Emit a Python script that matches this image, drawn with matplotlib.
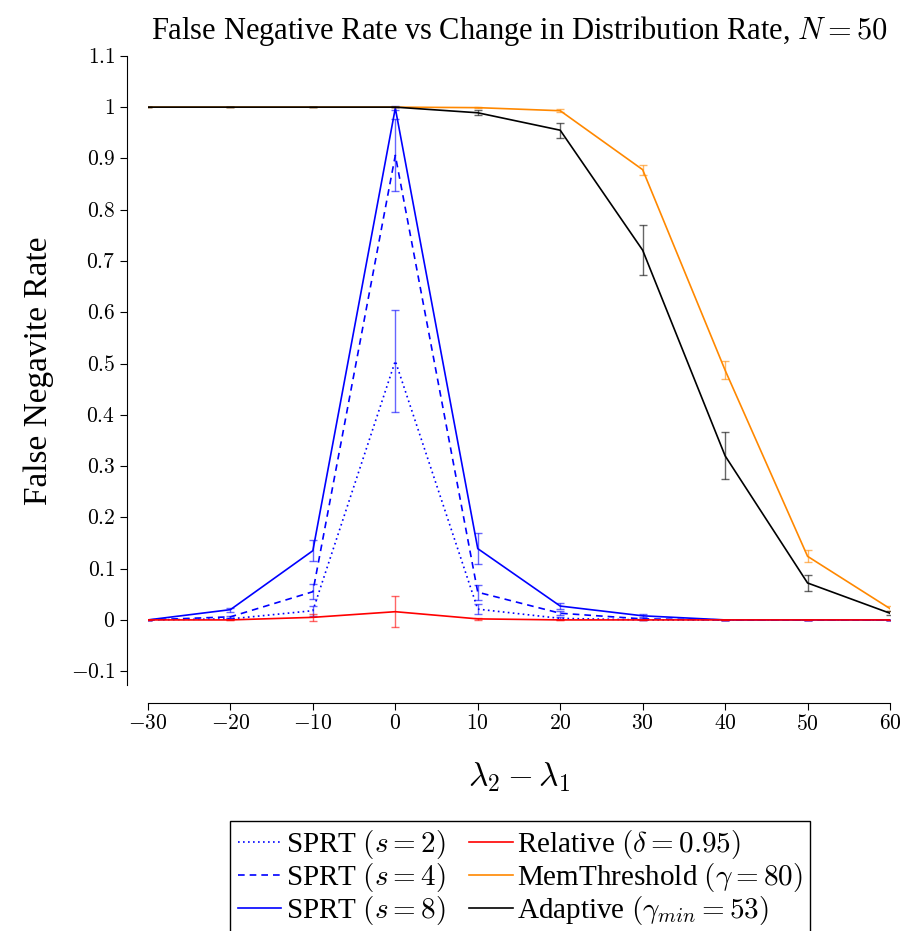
import matplotlib
matplotlib.use("Agg")
import matplotlib.pyplot as plt
from matplotlib.ticker import FuncFormatter

plt.rcParams['font.family'] = 'serif'
plt.rcParams['font.serif'] = ['Liberation Serif', 'DejaVu Serif']
plt.rcParams['mathtext.fontset'] = 'cm'

x = [-30, -20, -10, 0, 10, 20, 30, 40, 50, 60]

sprt2 = [0, 0.002, 0.018, 0.505, 0.021, 0.003, 0, 0, 0, 0]
sprt2_err = [0, 0.001, 0.01, 0.1, 0.01, 0.002, 0, 0, 0, 0]
sprt4 = [0, 0.006, 0.055, 0.906, 0.054, 0.013, 0.002, 0, 0, 0]
sprt4_err = [0, 0.002, 0.015, 0.07, 0.015, 0.004, 0.001, 0, 0, 0]
sprt8 = [0, 0.02, 0.135, 0.998, 0.139, 0.027, 0.008, 0, 0, 0]
sprt8_err = [0, 0.004, 0.02, 0.004, 0.03, 0.006, 0.003, 0, 0, 0]
relative = [0, 0, 0.005, 0.016, 0.002, 0, 0, 0, 0, 0]
relative_err = [0, 0, 0.007, 0.03, 0.002, 0, 0, 0, 0, 0]
memthr = [1, 1, 1, 1, 0.999, 0.993, 0.878, 0.487, 0.124, 0.022]
memthr_err = [0, 0, 0, 0, 0.001, 0.003, 0.01, 0.017, 0.012, 0.005]
adaptive = [1, 1, 1, 1, 0.989, 0.955, 0.721, 0.32, 0.072, 0.013]
adaptive_err = [0, 0, 0, 0, 0.005, 0.015, 0.049, 0.046, 0.015, 0.004]

series = [
    (sprt2, sprt2_err, '#0000ff', (0, (1, 2)), r'SPRT $(s = 2)$'),
    (sprt4, sprt4_err, '#0000ff', (0, (4, 3)), r'SPRT $(s = 4)$'),
    (sprt8, sprt8_err, '#0000ff', '-', r'SPRT $(s = 8)$'),
    (relative, relative_err, '#ff0000', '-', r'Relative $(\delta = 0.95)$'),
    (memthr, memthr_err, '#ff8800', '-', r'MemThreshold $(\gamma = 80)$'),
    (adaptive, adaptive_err, '#000000', '-', r'Adaptive $(\gamma_{min} = 53)$'),
]

fig = plt.figure(figsize=(9, 9.31), dpi=100)
ax = fig.add_axes([0.1644, 0.2642, 0.8245, 0.6758])

handles = []
for y, err, col, ls, lab in series:
    ax.errorbar(x, y, yerr=err, fmt='none', ecolor=col, elinewidth=1.0,
                capsize=3, capthick=1.0, alpha=0.6)
    h, = ax.plot(x, y, color=col, linestyle=ls, linewidth=1.2, label=lab)
    handles.append(h)

ax.set_xlim(-30, 60)
ax.set_ylim(-0.127, 1.1)
ax.set_xticks(range(-30, 61, 10))
ax.set_yticks([-0.1, 0, 0.1, 0.2, 0.3, 0.4, 0.5, 0.6, 0.7, 0.8, 0.9, 1, 1.1])
fmt = FuncFormatter(lambda v, p: '$%g$' % round(v, 2))
ax.xaxis.set_major_formatter(fmt)
ax.yaxis.set_major_formatter(fmt)
ax.tick_params(direction='out', length=5, width=0.8, labelsize=15.5)

ax.spines['top'].set_visible(False)
ax.spines['right'].set_visible(False)
ax.spines['left'].set_position(('outward', 15))
ax.spines['bottom'].set_position(('outward', 13))

ax.set_title(r'False Negative Rate vs Change in Distribution Rate, $N = 50$',
             fontsize=22, pad=12)
ax.set_ylabel('False Negavite Rate', fontsize=24, labelpad=12)
ax.set_xlabel(r'$\lambda_2 - \lambda_1$', fontsize=24, labelpad=18)

fig.legend(handles=handles, loc='upper center', bbox_to_anchor=(0.578, 0.118),
           ncol=2, fontsize=21, handlelength=1.5, handletextpad=0.15,
           labelspacing=0.0, columnspacing=0.8, borderpad=0.25,
           borderaxespad=0.0, fancybox=False, edgecolor='black', framealpha=1)

fig.savefig('out.png', dpi=100)
